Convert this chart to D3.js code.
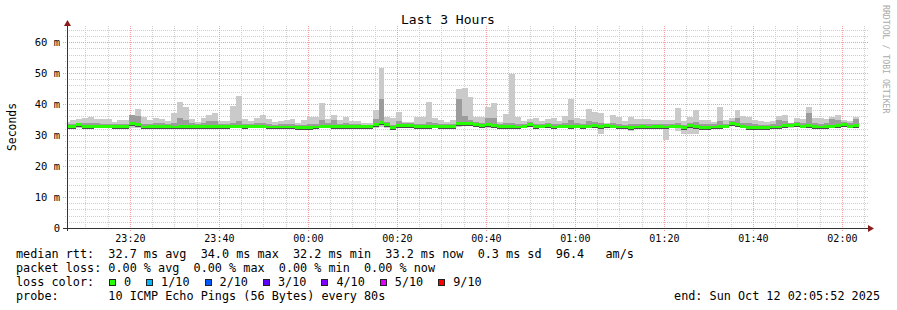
<!DOCTYPE html>
<html>
<head>
<meta charset="utf-8">
<script src="https://cdn.jsdelivr.net/npm/d3@7"></script>
<style>
  body { margin: 0; background: #fff; }
  text { font-family: "DejaVu Sans Mono", monospace; fill: #000; }
</style>
</head>
<body>
<div id="chart"></div>
<script>
// time window of the graph and rrd step
const startTime = new Date(2025, 9, 11, 23, 5, 52);
const endTime = new Date(2025, 9, 12, 2, 5, 52);
const firstStepEnd = new Date(2025, 9, 11, 23, 6, 32);
const stepSec = 80;

// smoke: outermost ping (max), second band top, lowest ping, median rtt (ms)
const smokeMax = [
  34.1,34.8,35.2,35.5,35.9,35.2,35.2,35.2,34.2,34.8,
  34.8,36.5,38.4,35.9,34.8,35.5,35.2,34.5,37.2,40.6,
  39.1,35.2,34.2,35.6,36.5,37.2,34.5,34.5,39.5,42.7,
  35.2,34.5,35.5,36.5,35.2,34.3,34.5,34.8,35.1,34.0,
  34.8,35.7,35.7,40.4,35.1,36.5,34.8,35.9,34.5,34.5,
  33.8,33.8,38.1,51.8,35.9,35.5,37.3,34.2,34.2,35.9,
  35.9,40.6,35.5,34.8,34.2,34.8,44.8,45.3,42.4,35.9,
  35.9,39.2,40.2,34.3,36.8,49.7,35.8,34.5,35.2,35.5,
  34.5,35.2,35.5,34.5,36.1,41.6,35.5,35.2,38.3,37.5,
  37.2,33.9,36.6,35.7,34.5,35.7,35.2,35.2,35.2,34.9,
  34.9,34.9,34.8,38.8,34.5,35.9,38.1,34.8,34.8,34.3,
  39.1,34.8,35.4,38.1,36.1,35.9,34.8,34.5,34.1,34.5,
  36.1,36.4,34.0,35.5,35.2,39.1,35.5,35.5,35.2,35.9,
  36.4,34.8,34.5,35.7
];
const smokeMid = [
  33.5,33.6,34.0,33.8,33.9,33.8,33.7,33.7,33.5,33.6,
  33.6,36.5,36.3,33.6,33.7,33.9,33.8,33.6,34.0,35.5,
  35.0,33.8,33.6,33.8,34.5,34.5,33.6,33.6,34.0,34.6,
  33.7,33.7,33.9,34.0,33.6,33.4,33.5,33.6,33.6,33.3,
  33.4,33.6,33.6,35.0,33.9,34.8,33.7,33.9,33.6,33.5,
  33.4,33.4,35.3,41.6,34.2,33.4,34.5,33.8,33.8,33.6,
  33.7,34.3,33.8,33.6,33.5,33.7,41.5,36.0,35.0,34.2,
  34.0,35.4,35.4,33.5,33.9,33.8,33.5,33.7,34.1,33.6,
  33.7,33.9,33.6,33.7,34.0,35.0,33.9,33.7,34.5,34.2,
  34.0,33.6,34.0,33.6,33.4,33.5,33.5,33.6,33.6,33.6,
  33.6,33.6,33.7,34.0,33.4,34.0,34.2,33.5,33.5,33.5,
  34.5,33.7,34.4,35.4,34.0,33.8,33.5,33.4,33.4,33.5,
  35.0,34.6,33.9,34.2,33.8,37.0,33.9,33.6,33.8,35.3,
  35.0,34.1,33.8,35.3
];
const smokeMin = [
  32.1,32.1,32.3,32.1,32.1,32.2,32.2,32.2,32.1,32.1,
  32.1,32.4,32.3,32.0,32.1,32.1,32.1,32.1,32.0,32.0,
  32.0,32.1,32.1,32.1,32.0,32.0,32.0,32.0,32.2,32.2,
  32.0,32.2,32.2,32.2,31.9,31.9,31.9,31.9,31.9,31.8,
  31.8,31.8,31.9,32.2,32.2,32.1,32.1,32.1,32.1,32.0,
  32.0,32.0,32.4,32.5,32.4,31.7,32.3,32.3,32.3,32.0,
  32.0,32.1,32.2,32.1,32.1,32.1,32.6,32.8,32.9,32.5,
  32.3,32.4,32.2,32.0,32.0,32.0,31.9,32.2,32.5,32.0,
  32.2,32.3,31.9,32.2,32.2,32.1,32.2,32.0,32.2,32.3,
  30.3,32.3,32.2,31.9,31.9,31.3,31.9,32.0,31.9,32.0,
  32.1,28.4,32.2,31.4,30.5,30.5,30.5,31.8,31.8,31.9,
  32.1,32.2,32.9,32.5,32.2,31.8,31.7,31.7,31.8,31.9,
  31.9,32.3,32.4,32.5,32.2,32.3,32.1,31.9,32.0,32.2,
  32.3,32.5,32.2,32.3
];
const medianRtt = [
  32.7,32.7,33.3,32.7,32.7,32.9,32.9,32.9,32.7,32.8,
  32.8,33.7,33.3,32.6,32.8,32.8,32.8,32.8,32.6,32.7,
  32.7,32.8,32.8,32.8,32.7,32.7,32.7,32.7,32.9,32.9,
  32.7,32.9,32.9,32.9,32.6,32.6,32.6,32.6,32.6,32.5,
  32.5,32.5,32.6,32.9,32.9,32.8,32.8,32.8,32.8,32.7,
  32.7,32.7,33.3,33.9,33.3,32.4,33.1,33.0,33.0,32.7,
  32.7,32.8,32.9,32.8,32.8,32.8,33.6,33.7,33.7,33.3,
  33.1,33.3,33.0,32.7,32.7,32.7,32.6,32.9,33.3,32.7,
  32.9,33.0,32.6,32.9,32.9,32.8,32.9,32.7,32.9,33.0,
  32.8,33.0,32.9,32.6,32.6,32.4,32.6,32.7,32.6,32.7,
  32.8,32.6,32.9,32.9,32.3,33.0,32.7,32.5,32.5,32.6,
  32.8,32.9,33.7,33.3,32.9,32.5,32.4,32.4,32.5,32.6,
  32.6,33.0,33.2,33.3,32.9,33.0,32.8,32.6,32.7,32.9,
  33.0,33.3,32.9,33.0
];

const yTickValues = [0, 10, 20, 30, 40, 50, 60];
const yTickLabels = ["0", "10 m", "20 m", "30 m", "40 m", "50 m", "60 m"];

const lossLabels = ["0", "1/10", "2/10", "3/10", "4/10", "5/10", "9/10"];
const lossColors = ["#26ff00", "#00b8ff", "#0059ff", "#5e00ff", "#7e00ff", "#dd00ff", "#ff0000"];

const legendLines = [
  "median rtt:  32.7 ms avg  34.0 ms max  32.2 ms min  33.2 ms now  0.3 ms sd  96.4   am/s",
  "packet loss: 0.00 % avg  0.00 % max  0.00 % min  0.00 % now"
];
const probeLine = "probe:       10 ICMP Echo Pings (56 Bytes) every 80s";
const endLine = "end: Sun Oct 12 02:05:52 2025";

const width = 897, height = 310;
const plotLeft = 67, plotRight = 868, plotTop = 26, plotBottom = 228;

const svg = d3.select("#chart").append("svg")
  .attr("width", width)
  .attr("height", height)
  .style("background", "#fff");

const x = d3.scaleTime().domain([startTime, endTime]).range([plotLeft, plotRight]);
const y = d3.scaleLinear().domain([0, 65.2]).range([plotBottom, plotTop]);

// grid
const grid = svg.append("g").attr("shape-rendering", "crispEdges");
const minorY = d3.range(2, 65, 2).filter(v => v % 10 !== 0);
grid.selectAll(".hminor").data(minorY).enter().append("line")
  .attr("x1", plotLeft - 2).attr("x2", plotRight)
  .attr("y1", d => Math.round(y(d)) + 0.5).attr("y2", d => Math.round(y(d)) + 0.5)
  .attr("stroke", "#cfcfcf").attr("stroke-dasharray", "1,1");
const minorX = x.ticks(d3.timeMinute.every(5)).filter(d => d.getMinutes() % 20 !== 0);
grid.selectAll(".vminor").data(minorX).enter().append("line")
  .attr("x1", d => Math.round(x(d)) + 0.5).attr("x2", d => Math.round(x(d)) + 0.5)
  .attr("y1", plotTop).attr("y2", plotBottom + 2)
  .attr("stroke", "#cfcfcf").attr("stroke-dasharray", "1,1");
grid.selectAll(".hmajor").data(yTickValues.slice(1)).enter().append("line")
  .attr("x1", plotLeft - 4).attr("x2", plotRight)
  .attr("y1", d => Math.round(y(d)) + 0.5).attr("y2", d => Math.round(y(d)) + 0.5)
  .attr("stroke", "#f2a0a0").attr("stroke-dasharray", "1,1");
const majorX = x.ticks(d3.timeMinute.every(20));
grid.selectAll(".vmajor").data(majorX).enter().append("line")
  .attr("x1", d => Math.round(x(d)) + 0.5).attr("x2", d => Math.round(x(d)) + 0.5)
  .attr("y1", plotTop).attr("y2", plotBottom + 4)
  .attr("stroke", "#f2a0a0").attr("stroke-dasharray", "1,1");

// data
const steps = medianRtt.map((m, i) => ({
  t0: new Date(firstStepEnd.getTime() + (i - 1) * stepSec * 1000),
  t1: new Date(firstStepEnd.getTime() + i * stepSec * 1000),
  hi: smokeMax[i], mid: smokeMid[i], lo: smokeMin[i], med: m
}));

svg.append("clipPath").attr("id", "plot")
  .append("rect").attr("x", plotLeft).attr("y", plotTop)
  .attr("width", plotRight - plotLeft).attr("height", plotBottom - plotTop);

const plot = svg.append("g").attr("clip-path", "url(#plot)").attr("shape-rendering", "crispEdges");
const bx = d => x(d.t0);
const bw = d => x(d.t1) - x(d.t0);

function band(cls, color, yTop, yBot) {
  plot.selectAll("." + cls).data(steps).enter().append("rect")
    .attr("class", cls)
    .attr("x", bx).attr("width", bw)
    .attr("y", d => y(yTop(d)))
    .attr("height", d => Math.max(0, y(yBot(d)) - y(yTop(d))))
    .attr("fill", color);
}
band("smoke1", "#cacaca", d => d.hi, d => d.lo);
band("smoke2", "#9c9c9c", d => d.mid, d => d.med - 0.5);
band("smoke3", "#4a4a4a", d => d.med + 0.45, d => d.med - 0.75);
band("median", lossColors[0], d => d.med + 0.48, d => d.med - 0.48);

// axes
const yAxis = svg.append("g")
  .attr("transform", `translate(${plotLeft},0)`)
  .call(d3.axisLeft(y).tickValues(yTickValues)
    .tickFormat((d, i) => yTickLabels[i]).tickSize(0).tickPadding(7));
yAxis.select(".domain").remove();
yAxis.selectAll("text").style("font-size", "10.5px")
  .style("font-family", '"DejaVu Sans Mono", monospace');

const xAxis = svg.append("g")
  .attr("transform", `translate(0,${plotBottom})`)
  .call(d3.axisBottom(x).ticks(d3.timeMinute.every(20))
    .tickFormat(d3.timeFormat("%H:%M")).tickSize(0).tickPadding(7));
xAxis.select(".domain").remove();
xAxis.selectAll("text").style("font-size", "10px")
  .style("font-family", '"DejaVu Sans Mono", monospace');

svg.append("line").attr("x1", plotLeft - 4).attr("x2", plotRight)
  .attr("y1", plotBottom + 0.5).attr("y2", plotBottom + 0.5)
  .attr("stroke", "#333").attr("shape-rendering", "crispEdges");
svg.append("line").attr("x1", plotLeft + 0.5).attr("x2", plotLeft + 0.5)
  .attr("y1", plotTop).attr("y2", plotBottom + 3)
  .attr("stroke", "#333").attr("shape-rendering", "crispEdges");
svg.append("path")
  .attr("d", `M${plotLeft - 3},${plotTop}L${plotLeft + 4},${plotTop}L${plotLeft + 0.5},${plotTop - 6}Z`)
  .attr("fill", "#8b1c1c");
svg.append("path")
  .attr("d", `M${plotRight},${plotBottom - 3}L${plotRight},${plotBottom + 4}L${plotRight + 6},${plotBottom + 0.5}Z`)
  .attr("fill", "#8b1c1c");

// titles
svg.append("text").attr("x", 448).attr("y", 24)
  .attr("text-anchor", "middle").style("font-size", "13px").text("Last 3 Hours");
svg.append("text").attr("transform", "translate(15.5,127) rotate(-90)")
  .attr("text-anchor", "middle").style("font-size", "11.4px").text("Seconds");
svg.append("text").attr("transform", "translate(883,5) rotate(90)")
  .style("font-size", "8.2px").style("fill", "#aaa").text("RRDTOOL / TOBI OETIKER");

// legend
const lg = svg.append("g").style("font-size", "11.8px");
lg.selectAll(".ll").data(legendLines).enter().append("text")
  .attr("xml:space", "preserve").style("white-space", "pre")
  .attr("x", 16).attr("y", (d, i) => 258 + i * 14).text(d => d);
lg.append("text").attr("x", 16).attr("y", 286).text("loss color:");
lg.append("text").attr("xml:space", "preserve").style("white-space", "pre")
  .attr("x", 16).attr("y", 300).text(probeLine);
lg.append("text").attr("x", 880).attr("y", 300).attr("text-anchor", "end").text(endLine);

let cx = 109;
lossLabels.forEach((lab, i) => {
  lg.append("rect").attr("x", cx + 0.5).attr("y", 279.5).attr("width", 6).attr("height", 6)
    .attr("fill", lossColors[i]).attr("stroke", "#222").attr("shape-rendering", "crispEdges");
  const t = lg.append("text").attr("x", cx + 15).attr("y", 286).text(lab);
  cx += 15 + t.node().getComputedTextLength() + 15;
});
</script>
</body>
</html>
